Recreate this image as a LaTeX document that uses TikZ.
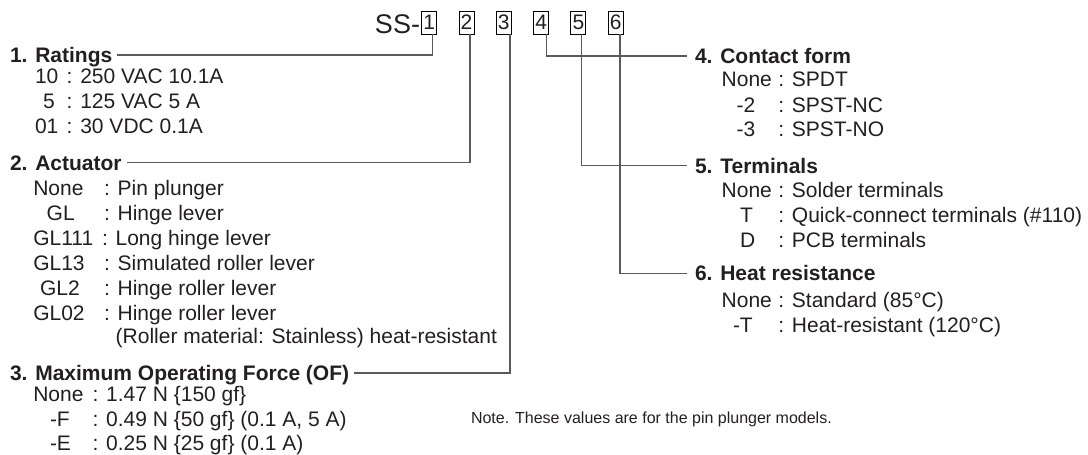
\documentclass[tikz,border=0pt]{standalone}
\usepackage{fontspec}
\setmainfont{Liberation Sans}
\definecolor{txt}{HTML}{231F20}
\definecolor{ln}{HTML}{5A5A5A}
\begin{document}
\begin{tikzpicture}[x=1pt,y=-1pt,
  every node/.style={inner sep=0pt, outer sep=0pt, text=txt},
  head/.style={anchor=base west, font=\fontsize{21}{25}\selectfont\bfseries},
  body/.style={anchor=base west, font=\fontsize{21}{25}\selectfont},
  notetext/.style={anchor=base west, font=\fontsize{16}{19}\selectfont},
  numbox/.style={draw=black, line width=0.9pt, minimum width=15pt, minimum height=23pt, font=\fontsize{21}{25}\selectfont},
  conn/.style={draw=ln, line width=1.1pt}]
\useasboundingbox (0,0) rectangle (1088,455);

% model code
\node[anchor=base east, font=\fontsize{27}{30}\selectfont] (ss) at (420,33.3) {SS-};
\node[numbox] (b1) at (429.2,22.5) {1};
\node[numbox] (b2) at (466.5,22.5) {2};
\node[numbox] (b3) at (503.8,22.5) {3};
\node[numbox] (b4) at (541.1,22.5) {4};
\node[numbox] (b5) at (578.4,22.5) {5};
\node[numbox] (b6) at (615.7,22.5) {6};

% 1. Ratings
\node[head] (h1) at (10,62.5) {1. Ratings};
\node[body] (k1a) at (35,83.5) {10};
\node[body] (v1a) at (66.7,83.5) {: 250 VAC 10.1A};
\node[body] (k1b) at (43,108.5) {5};
\node[body] (v1b) at (66.7,108.5) {: 125 VAC 5 A};
\node[body] (k1c) at (35,133.5) {01};
\node[body] (v1c) at (66.7,133.5) {: 30 VDC 0.1A};

% 2. Actuator
\node[head] (h2) at (10,170.2) {2. Actuator};
\node[body] (k2a) at (33.3,195.5) {None};
\node[body] (v2a) at (104,195.5) {: Pin plunger};
\node[body] (k2b) at (46.7,220.5) {GL};
\node[body] (v2b) at (104,220.5) {: Hinge lever};
\node[body] (k2c) at (33.3,245.5) {GL111};
\node[body] (v2c) at (102,245.5) {: Long hinge lever};
\node[body] (k2d) at (33.3,270.5) {GL13};
\node[body] (v2d) at (104,270.5) {: Simulated roller lever};
\node[body] (k2e) at (40,295.5) {GL2};
\node[body] (v2e) at (104,295.5) {: Hinge roller lever};
\node[body] (k2f) at (33.3,320) {GL02};
\node[body] (v2f) at (104,320) {: Hinge roller lever};
\node[body] (v2g) at (115.7,343.5) {(Roller material: Stainless) heat-resistant};

% 3. Maximum Operating Force
\node[head] (h3) at (10,380.5) {3. Maximum Operating Force (OF)};
\node[body] (k3a) at (33.3,401.5) {None};
\node[body] (v3a) at (92.5,401.5) {: 1.47 N \{150 gf\}};
\node[body] (k3b) at (50,426) {-F};
\node[body] (v3b) at (92.5,426) {: 0.49 N \{50 gf\} (0.1 A, 5 A)};
\node[body] (k3c) at (50,450) {-E};
\node[body] (v3c) at (92.5,450) {: 0.25 N \{25 gf\} (0.1 A)};

\node[notetext] (note) at (471,423) {Note. These values are for the pin plunger models.};

% 4. Contact form
\node[head] (h4) at (695,63.5) {4. Contact form};
\node[body] (k4a) at (721.7,86.7) {None};
\node[body] (v4a) at (778.3,86.7) {: SPDT};
\node[body] (k4b) at (736.7,112) {-2};
\node[body] (v4b) at (778.3,112) {: SPST-NC};
\node[body] (k4c) at (736.7,136.5) {-3};
\node[body] (v4c) at (778.3,136.5) {: SPST-NO};

% 5. Terminals
\node[head] (h5) at (695,173.2) {5. Terminals};
\node[body] (k5a) at (721.7,197.5) {None};
\node[body] (v5a) at (778.3,197.5) {: Solder terminals};
\node[body] (k5b) at (740,222) {T};
\node[body] (v5b) at (778.3,222) {: Quick-connect terminals (\#110)};
\node[body] (k5c) at (740,247.5) {D};
\node[body] (v5c) at (778.3,247.5) {: PCB terminals};

% 6. Heat resistance
\node[head] (h6) at (695,280.8) {6. Heat resistance};
\node[body] (k6a) at (721.7,307) {None};
\node[body] (v6a) at (778.3,307) {: Standard (85°C)};
\node[body] (k6b) at (733,332.5) {-T};
\node[body] (v6b) at (778.3,332.5) {: Heat-resistant (120°C)};

% connectors
\draw[conn] ([xshift=3.5pt]b1.south) |- ([xshift=5pt,yshift=7.5pt]h1.base east);
\draw[conn] ([xshift=3.5pt]b2.south) |- ([xshift=5pt,yshift=7.5pt]h2.base east);
\draw[conn] ([xshift=6.2pt]b3.south) |- ([xshift=5pt,yshift=7.5pt]h3.base east);
\draw[conn] ([xshift=5.6pt]b4.south) |- ([xshift=-8pt,yshift=7.5pt]h4.base west);
\draw[conn] ([xshift=3.3pt]b5.south) |- ([xshift=-8pt,yshift=7.5pt]h5.base west);
\draw[conn] ([xshift=4.3pt]b6.south) |- ([xshift=-8pt,yshift=7.5pt]h6.base west);
\end{tikzpicture}
\end{document}
